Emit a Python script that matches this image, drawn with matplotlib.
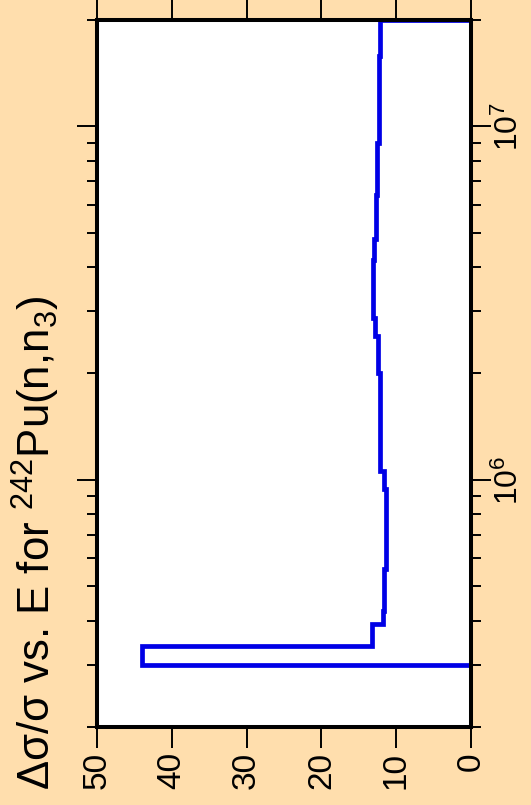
import numpy as np
import matplotlib
matplotlib.use('Agg')
import matplotlib.pyplot as plt
from matplotlib.ticker import LogLocator, FixedLocator, NullFormatter

plt.rcParams['font.family'] = ['Liberation Sans', 'DejaVu Sans']
plt.rcParams['mathtext.fontset'] = 'custom'
plt.rcParams['mathtext.rm'] = 'Liberation Sans'
plt.rcParams['mathtext.default'] = 'regular'

# bin edges (eV) and relative uncertainty (%) per bin
edges = [3.0e5, 3.4e5, 3.9e5, 4.25e5, 5.6e5, 9.45e5, 1.06e6, 2.0e6, 2.55e6,
         2.87e6, 4.2e6, 4.8e6, 6.4e6, 9.0e6, 1.58e7, 2.0e7]
values = [44.0, 13.3, 11.7, 11.6, 11.35, 11.6, 12.2, 12.4, 12.85,
          13.1, 13.0, 12.7, 12.55, 12.35, 12.1]
val_ticks = [0, 10, 20, 30, 40, 50]

bg = '#FFDEAD'
fig = plt.figure(figsize=(5.31, 8.05), dpi=100, facecolor=bg)
ax = fig.add_axes([97/531, 78/805, 374/531, 707/805])
ax.set_facecolor('white')

ax.stairs(values, edges, orientation='horizontal', baseline=0,
          color='#0000e6', lw=3.4, clip_on=False)

ax.set_yscale('log')
ax.set_ylim(2e5, 2e7)
ax.set_xlim(50, 0)

ax.xaxis.set_major_locator(FixedLocator(val_ticks))
ax.yaxis.set_major_locator(LogLocator(base=10, numticks=10))
ax.yaxis.set_minor_locator(LogLocator(base=10, subs=np.arange(2, 10), numticks=20))
ax.yaxis.set_minor_formatter(NullFormatter())

for s in ax.spines.values():
    s.set_linewidth(2.9)

ax.tick_params(axis='x', which='major', direction='out', top=True, bottom=True,
               labeltop=False, labelbottom=True, length=15, width=1.4,
               labelsize=24, labelrotation=90, pad=3)
ax.tick_params(axis='y', which='major', direction='out', left=True, right=True,
               labelleft=False, labelright=True, length=14.5, width=1.4,
               labelsize=23, labelrotation=90, pad=2)
ax.tick_params(axis='y', which='minor', direction='out', left=True, right=True,
               length=7.5, width=1.4)
for lab in ax.get_yticklabels():
    lab.set_va('center')

fig.text(36/531, 15/805, 'Δσ/σ vs. E for $^{242}$Pu(n,n$_3$)', rotation=90,
         ha='center', va='bottom', fontsize=31.5)

fig.savefig('out.png', dpi=100, facecolor=bg)
